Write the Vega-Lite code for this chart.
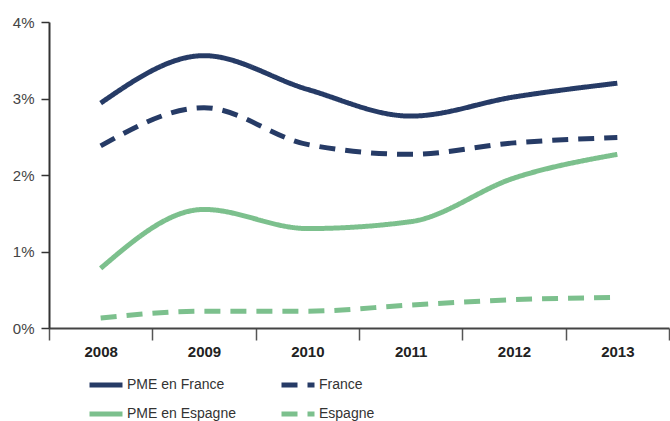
{
  "$schema": "https://vega.github.io/schema/vega-lite/v6.json",
  "width": 620,
  "height": 306,
  "autosize": {"type": "none"},
  "padding": {"left": 49, "top": 22, "right": 1, "bottom": 93},
  "background": "white",
  "config": {
    "view": {"stroke": null},
    "font": "Liberation Sans, sans-serif"
  },
  "data": {
    "values": [
      {"year": "2008", "series": "PME en France", "value": 2.94},
      {"year": "2009", "series": "PME en France", "value": 3.56},
      {"year": "2010", "series": "PME en France", "value": 3.12},
      {"year": "2011", "series": "PME en France", "value": 2.77},
      {"year": "2012", "series": "PME en France", "value": 3.02},
      {"year": "2013", "series": "PME en France", "value": 3.2},
      {"year": "2008", "series": "France", "value": 2.38},
      {"year": "2009", "series": "France", "value": 2.88},
      {"year": "2010", "series": "France", "value": 2.4},
      {"year": "2011", "series": "France", "value": 2.27},
      {"year": "2012", "series": "France", "value": 2.42},
      {"year": "2013", "series": "France", "value": 2.49},
      {"year": "2008", "series": "PME en Espagne", "value": 0.78},
      {"year": "2009", "series": "PME en Espagne", "value": 1.55},
      {"year": "2010", "series": "PME en Espagne", "value": 1.3},
      {"year": "2011", "series": "PME en Espagne", "value": 1.39},
      {"year": "2012", "series": "PME en Espagne", "value": 1.96},
      {"year": "2013", "series": "PME en Espagne", "value": 2.27},
      {"year": "2008", "series": "Espagne", "value": 0.13},
      {"year": "2009", "series": "Espagne", "value": 0.22},
      {"year": "2010", "series": "Espagne", "value": 0.22},
      {"year": "2011", "series": "Espagne", "value": 0.3},
      {"year": "2012", "series": "Espagne", "value": 0.37},
      {"year": "2013", "series": "Espagne", "value": 0.4}
    ]
  },
  "mark": {"type": "line", "interpolate": "monotone", "strokeWidth": 5, "strokeCap": "butt"},
  "encoding": {
    "x": {
      "field": "year",
      "type": "ordinal",
      "bandPosition": 0.5,
      "scale": {"type": "band", "paddingInner": 0, "paddingOuter": 0},
      "axis": {
        "title": null,
        "labelAngle": 0,
        "tickBand": "extent",
        "tickSize": 12,
        "tickColor": "#555555",
        "tickWidth": 1.5,
        "domainColor": "#444444",
        "domainWidth": 2,
        "labelFontWeight": "bold",
        "labelFontSize": 15,
        "labelColor": "#222222",
        "labelPadding": 4
      }
    },
    "y": {
      "field": "value",
      "type": "quantitative",
      "scale": {"domain": [0, 4], "nice": false},
      "axis": {
        "title": null,
        "values": [0, 1, 2, 3, 4],
        "labelExpr": "datum.value + '%'",
        "grid": false,
        "tickSize": 8,
        "tickColor": "#333333",
        "tickWidth": 1.5,
        "domainColor": "#333333",
        "domainWidth": 2,
        "labelFontSize": 15,
        "labelColor": "#444444",
        "labelPadding": 7
      }
    },
    "color": {
      "field": "series",
      "type": "nominal",
      "sort": ["PME en France", "France", "PME en Espagne", "Espagne"],
      "scale": {
        "domain": ["PME en France", "France", "PME en Espagne", "Espagne"],
        "range": ["#263b66", "#263b66", "#7cc08d", "#7cc08d"]
      },
      "legend": {
        "title": null,
        "orient": "none",
        "legendX": 38,
        "legendY": 344,
        "columns": 2,
        "direction": "horizontal",
        "gridAlign": "all",
        "columnPadding": 35,
        "rowPadding": -5,
        "padding": 0,
        "symbolType": "stroke",
        "symbolSize": 1089,
        "symbolStrokeWidth": 5,
        "labelFontSize": 14,
        "labelColor": "#333333",
        "labelOffset": 2
      }
    },
    "strokeDash": {
      "field": "series",
      "type": "nominal",
      "sort": ["PME en France", "France", "PME en Espagne", "Espagne"],
      "scale": {
        "domain": ["PME en France", "France", "PME en Espagne", "Espagne"],
        "range": [[1, 0], [16, 10], [1, 0], [16, 10]]
      },
      "legend": {
        "title": null,
        "orient": "none",
        "legendX": 38,
        "legendY": 344,
        "columns": 2,
        "direction": "horizontal",
        "gridAlign": "all",
        "columnPadding": 35,
        "rowPadding": -5,
        "padding": 0,
        "symbolType": "stroke",
        "symbolSize": 1089,
        "symbolStrokeWidth": 5,
        "labelFontSize": 14,
        "labelColor": "#333333",
        "labelOffset": 2
      }
    }
  }
}
